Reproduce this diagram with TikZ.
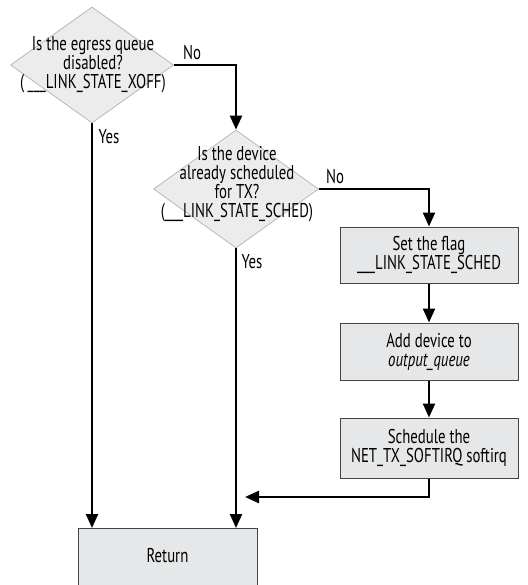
\documentclass[tikz,border=0pt]{standalone}
\usepackage{fontspec}
\setmainfont{PT Sans}[FakeStretch=0.74]
\usetikzlibrary{shapes.geometric,arrows.meta}
\definecolor{boxfill}{HTML}{E6E7E8}
\definecolor{dfill}{HTML}{ECECEC}
\definecolor{dline}{HTML}{B8B8B8}
\definecolor{bline}{HTML}{444444}
\begin{document}
\begin{tikzpicture}[x=1pt,y=-1pt,
  every node/.style={font=\fontsize{20}{19}\selectfont},
  decision/.style={diamond,draw=dline,fill=dfill,line width=0.8pt,inner sep=0pt,minimum width=#1},
  dtext/.style={align=center,inner sep=0pt},
  stepbox/.style={rectangle,draw=bline,fill=boxfill,line width=1pt,minimum width=178pt,minimum height=56pt,align=center,inner sep=0pt},
  flow/.style={line width=2.4pt,-{Triangle[length=14pt,width=12pt]}},
  lbl/.style={inner sep=0pt}]
\useasboundingbox (0,0) rectangle (527,585);
% decisions
\node[decision=163pt,minimum height=116pt] (d1) at (92,65) {};
\node[dtext] (t1) at (93,65) {Is the egress queue\\disabled?\\(\,\_\_\_LINK\_STATE\_XOFF)};
\node[decision=165pt,minimum height=118pt] (d2) at (236,189) {};
\node[dtext] (t2) at (237,184) {Is the device\\already scheduled\\for TX?\\(\_\_\_LINK\_STATE\_SCHED)};
% boxes
\node[stepbox] (b1) at (429,255) {Set the flag\\\_\_\_LINK\_STATE\_SCHED};
\node[stepbox,minimum height=57pt] (b2) at (429,351.5) {Add device to\\\textit{output\_queue}};
\node[stepbox,minimum height=60pt] (b3) at (429,448) {Schedule the\\NET\_TX\_SOFTIRQ softirq};
\path[draw=bline,fill=boxfill,line width=1pt] (78,590) -- (78,528) -- (257,528) -- (257,590);
\node (ret) at (167.5,556) {Return};
\coordinate (rettop) at (167.5,528);
\coordinate (m) at (245,497);
% labels
\node[lbl] (no1) at (192,53) {No};
\node[lbl] (yes1) at (109,137) {Yes};
\node[lbl] (no2) at (335,177) {No};
\node[lbl] (yes2) at (252,262) {Yes};
% connectors
\draw[flow] (d1.east) -| (d2.north);
\draw[flow] (d1.south) -- (d1.south |- rettop);
\draw[flow] (d2.south) -- (d2.south |- rettop);
\draw[flow] (d2.east) -| (b1.north);
\draw[flow] (b1) -- (b2);
\draw[flow] (b2) -- (b3);
\draw[flow] (b3.south) |- (m);
\end{tikzpicture}
\end{document}
